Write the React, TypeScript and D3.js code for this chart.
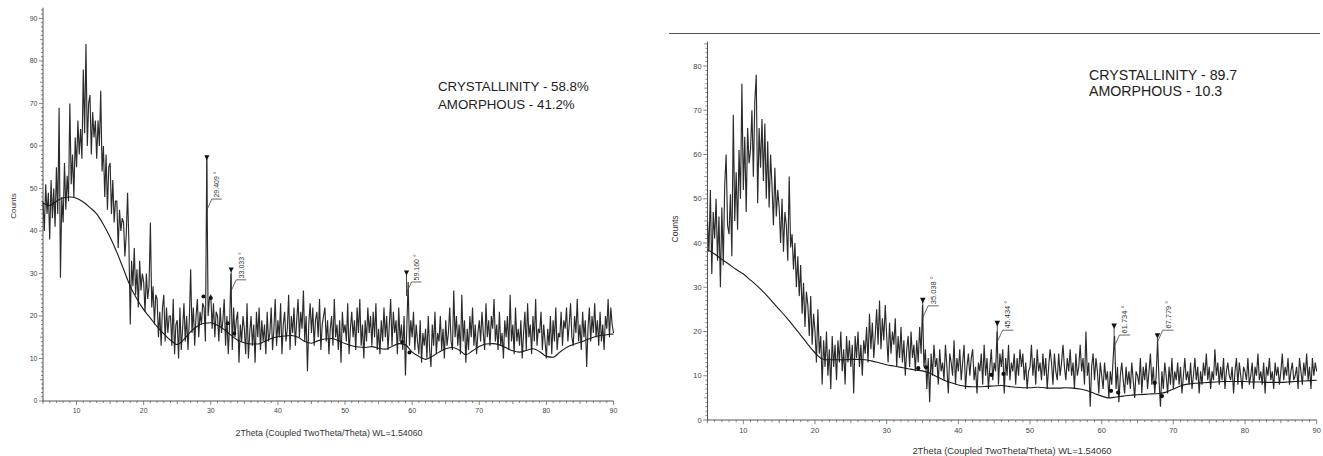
import React from "react";
import * as d3 from "d3";

// 2-theta grid of the measured patterns
const TWO_THETA_START = 5;
const TWO_THETA_STEP = 0.2;

// ---------- Left pattern (crystallinity 58.8 %) ----------
const leftCounts = [
  47, 40, 51, 44, 49, 38, 52, 43, 50, 41, 55, 44, 69, 29, 48, 42, 56, 45, 53, 47,
  70, 51, 58, 48, 62, 55, 66, 58, 64, 57, 78, 63, 84, 60, 70, 72, 58, 68, 62, 66,
  57, 66, 60, 73, 54, 60, 48, 58, 45, 55, 56, 44, 52, 42, 47, 47, 36, 45, 40, 43,
  42, 34, 39, 49, 37, 18, 33, 27, 36, 25, 31, 22, 33, 26, 30, 28, 21, 30, 24, 27,
  42, 22, 27, 18, 25, 24, 15, 21, 13, 22, 25, 14, 22, 16, 20, 20, 13, 24, 11, 18,
  19, 10, 22, 12, 17, 23, 14, 20, 12, 19, 31, 16, 22, 13, 20, 24, 15, 21, 18, 23,
  22, 14, 57, 20, 24, 25, 17, 23, 15, 21, 20, 14, 22, 16, 19, 24, 13, 20, 11, 18,
  30, 12, 22, 15, 19, 21, 9, 18, 14, 20, 17, 11, 23, 10, 16, 20, 13, 18, 9, 21,
  15, 22, 12, 19, 14, 18, 11, 21, 14, 16, 22, 12, 17, 24, 13, 19, 15, 23, 11, 18,
  21, 14, 17, 25, 12, 20, 16, 22, 13, 19, 24, 15, 21, 17, 26, 14, 20, 7, 18, 23,
  16, 22, 13, 19, 21, 15, 24, 12, 18, 20, 22, 14, 19, 11, 17, 20, 13, 24, 15, 18,
  12, 19, 9, 21, 16, 18, 14, 23, 11, 17, 21, 15, 19, 12, 22, 16, 24, 13, 18, 10,
  19, 14, 22, 16, 20, 13, 21, 15, 23, 12, 17, 11, 19, 14, 22, 15, 20, 12, 18, 24,
  13, 21, 16, 19, 11, 22, 14, 18, 12, 20, 6, 17, 28, 13, 19, 15, 21, 12, 18, 14,
  11, 19, 9, 16, 13, 17, 10, 20, 12, 8, 18, 13, 21, 11, 16, 14, 20, 12, 17, 10,
  19, 13, 16, 22, 14, 12, 26, 15, 20, 13, 18, 11, 25, 14, 19, 9, 17, 12, 20, 15,
  22, 13, 18, 11, 16, 19, 14, 21, 16, 12, 23, 15, 19, 13, 20, 17, 24, 14, 18, 12,
  21, 13, 16, 10, 19, 15, 20, 12, 25, 14, 18, 11, 22, 14, 17, 13, 19, 10, 16, 21,
  12, 23, 15, 18, 11, 20, 14, 24, 13, 17, 16, 21, 12, 18, 14, 10, 17, 13, 20, 11,
  19, 14, 22, 12, 16, 15, 21, 13, 19, 17, 22, 14, 18, 23, 15, 13, 20, 16, 24, 14,
  18, 12, 21, 15, 19, 8, 17, 22, 14, 20, 16, 23, 15, 19, 13, 21, 14, 18, 12, 20,
  17, 24, 15, 22, 18, 16,
];
const leftBgTheta = [
  5, 6, 7, 8, 9, 10, 11, 12, 13, 14, 15, 16, 17, 18, 19, 20, 21, 22, 23, 24, 25, 26, 27, 28, 29, 30,
  31, 32, 33, 34, 35, 36, 37, 38, 39, 40, 41, 42, 43, 44, 45, 46, 47, 48, 49, 50, 51, 52, 53, 54, 55,
  56, 57, 58, 59, 60, 61, 62, 63, 64, 65, 66, 67, 68, 69, 70, 71, 72, 73, 74, 75, 76, 77, 78, 79, 80,
  81, 82, 83, 84, 85, 86, 87, 88, 89, 90,
];
const leftBgCounts = [
  46.5, 46, 47, 47.8, 48, 47.7, 46.8, 45.5, 44, 41.5, 38.5, 35, 31, 27, 24, 21.5, 19.5, 17.5, 15.8, 14.3,
  13.3, 14.5, 16.3, 17.6, 18.3, 18.4, 17.8, 16.8, 15.5, 14.3, 13.7, 13.4, 13.4, 14, 14.7, 15.1, 15.3, 15.4,
  15, 14, 13.6, 14.2, 14.6, 14.7, 14.2, 13.5, 13, 12.7, 12.6, 12.8, 12.4, 12.2, 12.8, 13.5, 13.2, 11.5,
  10.5, 9.8, 10.5, 11.5, 12.3, 12.6, 12, 10.9, 11.8, 12.8, 13.4, 13.5, 13.2, 12.5, 11.8, 11.5, 11.9, 12.3,
  11.6, 10.5, 10.3, 11.5, 12.6, 13.3, 13.8, 14.4, 15, 15.4, 15.6, 15.8,
];
const leftPeakTheta = [29.409, 33.033, 59.16];
const leftPeakText = ["29.409 °", "33.033 °", "59.160 °"];
const leftPeakMarker = [57.2, 30.8, 30.1];
const leftPeakLabelLevel = [47.5, 28.5, 28.0];
const leftDotTheta = [28.9, 30.0, 32.5, 33.5, 58.5, 59.6];
const leftDotCounts = [24.6, 24.2, 18.3, 15.9, 13.9, 11.4];
const leftYTicks = [0, 10, 20, 30, 40, 50, 60, 70, 80, 90];
const leftInfo = ["CRYSTALLINITY - 58.8%", "AMORPHOUS - 41.2%"];

// ---------- Right pattern (crystallinity 89.7) ----------
const rightCounts = [
  45, 38, 52, 33, 47, 41, 50, 36, 46, 30, 48, 35, 53, 60, 44, 42, 51, 37, 69, 45,
  56, 43, 61, 50, 76, 52, 64, 47, 66, 58, 61, 70, 55, 72, 78, 49, 66, 57, 68, 54,
  67, 50, 63, 48, 60, 53, 44, 57, 46, 52, 48, 40, 50, 38, 47, 44, 36, 55, 39, 42,
  34, 40, 30, 37, 28, 35, 24, 31, 21, 29, 26, 19, 28, 17, 24, 20, 13, 25, 15, 19,
  8, 18, 12, 20, 10, 16, 7, 19, 12, 17, 9, 18, 13, 20, 11, 16, 8, 19, 13, 18,
  12, 17, 6, 19, 14, 20, 12, 17, 10, 18, 15, 21, 13, 24, 16, 22, 14, 19, 25, 17,
  27, 16, 23, 18, 26, 19, 13, 22, 15, 20, 17, 23, 12, 19, 14, 21, 13, 18, 10, 16,
  19, 12, 20, 14, 17, 11, 18, 13, 21, 15, 26, 12, 16, 7, 14, 4, 15, 10, 17, 12,
  14, 8, 16, 11, 13, 9, 17, 12, 6, 15, 13, 10, 18, 8, 14, 11, 16, 9, 13, 17,
  7, 12, 15, 10, 14, 16, 9, 12, 6, 13, 11, 15, 8, 17, 10, 14, 7, 12, 16, 9,
  13, 11, 20, 8, 15, 12, 16, 6, 14, 10, 17, 9, 13, 11, 15, 8, 14, 10, 16, 12,
  15, 9, 13, 7, 11, 12, 17, 10, 14, 8, 16, 11, 13, 9, 15, 10, 14, 7, 12, 16,
  13, 8, 15, 11, 9, 15, 10, 13, 17, 12, 9, 14, 11, 16, 10, 13, 7, 15, 10, 12,
  17, 11, 14, 8, 20, 10, 13, 3, 12, 15, 9, 14, 11, 6, 13, 10, 7, 13, 9, 11,
  5, 11, 8, 14, 19, 7, 12, 4, 10, 13, 9, 6, 12, 8, 11, 7, 13, 9, 5, 11,
  10, 8, 14, 6, 12, 9, 13, 7, 11, 15, 8, 12, 6, 10, 18, 9, 3, 11, 7, 13,
  10, 6, 12, 8, 14, 7, 11, 9, 13, 8, 12, 6, 10, 14, 9, 11, 8, 13, 7, 10,
  14, 9, 12, 6, 11, 8, 13, 10, 15, 9, 12, 7, 11, 9, 16, 10, 13, 8, 12, 9,
  14, 7, 11, 13, 10, 9, 12, 6, 11, 14, 8, 13, 10, 7, 12, 11, 9, 14, 8, 10,
  13, 7, 12, 10, 15, 9, 11, 8, 13, 6, 12, 10, 14, 9, 11, 7, 13, 10, 12, 8,
  11, 15, 9, 12, 10, 14, 8, 11, 13, 9, 10, 12, 7, 14, 11, 8, 13, 10, 15, 9,
  12, 7, 14, 10, 13, 11,
];
const rightBgTheta = [
  5, 6, 7, 8, 9, 10, 11, 12, 13, 14, 15, 16, 17, 18, 19, 20, 21, 22, 23, 24, 25, 26, 27, 28, 29, 30,
  31, 32, 33, 34, 35, 36, 37, 38, 39, 40, 41, 42, 43, 44, 45, 46, 47, 48, 49, 50, 51, 52, 53, 54, 55,
  56, 57, 58, 59, 60, 61, 62, 63, 64, 65, 66, 67, 68, 69, 70, 71, 72, 73, 74, 75, 76, 77, 78, 79, 80,
  81, 82, 83, 84, 85, 86, 87, 88, 89, 90,
];
const rightBgCounts = [
  38.5, 37.5, 36.3, 35.2, 34, 33, 31.6, 30.2, 28.6, 26.8, 25, 23.2, 21.2, 19.2, 17.1, 15.2, 13.8, 13.6,
  13.6, 13.6, 13.7, 13.7, 13.6, 13.3, 12.9, 12.5, 12.2, 11.9, 11.6, 11.3, 11.1, 10.6, 9.8, 9, 8.4, 7.9,
  7.6, 7.5, 7.5, 7.6, 7.7, 7.8, 7.6, 7.4, 7.3, 7.3, 7.4, 7.3, 7.2, 7.2, 7.3, 7.2, 7.0, 6.6, 6.0, 5.4,
  5.0, 5.2, 5.4, 5.6, 5.7, 5.8, 5.9, 6.0, 6.3, 7.0, 7.7, 8.1, 8.3, 8.4, 8.5, 8.6, 8.7, 8.7, 8.7, 8.7,
  8.6, 8.6, 8.5, 8.5, 8.5, 8.6, 8.7, 8.8, 8.9, 9.0,
];
const rightPeakTheta = [35.038, 45.434, 61.734, 67.779];
const rightPeakText = ["35.038 °", "45.434 °", "61.734 °", "67.779 °"];
const rightPeakMarker = [27.0, 21.8, 21.2, 19.0];
const rightPeakLabelLevel = [25.8, 20.3, 19.2, 20.3];
const rightDotTheta = [34.4, 35.5, 44.6, 46.3, 61.3, 62.3, 67.4, 68.4];
const rightDotCounts = [11.7, 11.9, 10.2, 10.4, 6.6, 6.2, 8.4, 5.4];
const rightYTicks = [0, 10, 20, 30, 40, 50, 60, 70, 80];
const rightInfo = ["CRYSTALLINITY - 89.7", "AMORPHOUS - 10.3"];

const xTicks = [10, 20, 30, 40, 50, 60, 70, 80, 90];
const X_LABEL = "2Theta (Coupled TwoTheta/Theta) WL=1.54060";

type Geom = {
  x0: number; x1: number; y0: number; yTopVal: number; yTopPx: number; axisTopVal: number;
  s: number; infoX: number; infoY: number; infoGap: number; countsX: number; countsY: number;
  xLabelY: number; xLabelX: number;
};

function Panel(props: {
  counts: number[]; bgTheta: number[]; bgCounts: number[]; peakTheta: number[]; peakText: string[];
  peakMarker: number[]; peakLabel: number[]; dotTheta: number[]; dotCounts: number[];
  yTicks: number[]; info: string[]; g: Geom;
}) {
  const { g } = props;
  const x = d3.scaleLinear().domain([5, 90]).range([g.x0, g.x1]);
  const y = d3.scaleLinear().domain([0, g.yTopVal]).range([g.y0, g.yTopPx]);
  const s = g.s;
  const line = d3
    .line<number>()
    .x((_, i) => x(TWO_THETA_START + i * TWO_THETA_STEP))
    .y((d) => y(d));
  const bgLine = d3
    .line<number>()
    .curve(d3.curveMonotoneX)
    .x((_, i) => x(props.bgTheta[i]))
    .y((d) => y(d));
  const minorY = d3.range(0, Math.floor(g.axisTopVal) + 1, 1);
  const minorX = d3.range(5, 91, 1);
  const axisColor = "#555";
  const tickFont = 7 * s;
  return (
    <g fontFamily="'Liberation Sans', Arial, sans-serif">
      {/* y axis */}
      <line x1={g.x0} x2={g.x0} y1={y(0) + 1} y2={y(g.axisTopVal)} stroke={axisColor} strokeWidth={1} />
      {minorY.map((v) => (
        <line key={"my" + v} x1={g.x0 - (v % 10 === 0 ? 4 : v % 5 === 0 ? 3 : 2) * s} x2={g.x0}
          y1={y(v)} y2={y(v)} stroke={axisColor} strokeWidth={0.7} />
      ))}
      {props.yTicks.map((v) => (
        <text key={"ty" + v} x={g.x0 - 5.5 * s} y={y(v)} dy="0.35em" textAnchor="end"
          fontSize={tickFont} fill="#444">{v}</text>
      ))}
      {/* x axis */}
      <line x1={g.x0} x2={g.x1} y1={y(0)} y2={y(0)} stroke={axisColor} strokeWidth={1} />
      {minorX.map((v) => (
        <line key={"mx" + v} x1={x(v)} x2={x(v)} y1={y(0)}
          y2={y(0) + (v % 10 === 0 ? 4 : v % 5 === 0 ? 3 : 2) * s} stroke={axisColor} strokeWidth={0.7} />
      ))}
      {xTicks.map((v) => (
        <text key={"tx" + v} x={x(v)} y={y(0) + 12 * s} textAnchor="middle" fontSize={tickFont} fill="#444">{v}</text>
      ))}
      <text x={g.xLabelX} y={g.xLabelY} textAnchor="middle" fontSize={8.8 * s} fill="#333">{X_LABEL}</text>
      <text transform={`translate(${g.countsX},${g.countsY}) rotate(-90)`} textAnchor="middle"
        fontSize={8 * s} fill="#333">Counts</text>
      {/* measured pattern */}
      <path d={line(props.counts) || ""} fill="none" stroke="#2b2b2b" strokeWidth={1.15}
        strokeLinejoin="miter" strokeMiterlimit={3} />
      {/* fitted background */}
      <path d={bgLine(props.bgCounts) || ""} fill="none" stroke="#1a1a1a" strokeWidth={1.1} />
      {props.dotTheta.map((t, i) => (
        <circle key={"d" + i} cx={x(t)} cy={y(props.dotCounts[i])} r={2 * s} fill="#111" />
      ))}
      {/* peak labels */}
      {props.peakTheta.map((t, i) => {
        const px = x(t);
        const my = y(props.peakMarker[i]);
        const ly = y(props.peakLabel[i]);
        return (
          <g key={"p" + i}>
            <line x1={px} x2={px} y1={my} y2={ly + 14 * s} stroke="#333" strokeWidth={0.9} />
            <path d={`M${px - 2.6 * s},${my - 2.5 * s}L${px + 2.6 * s},${my - 2.5 * s}L${px},${my + 2.5 * s}Z`} fill="#111" />
            <path d={`M${px},${ly + 11 * s}L${px + 5 * s},${ly}L${px + 15 * s},${ly}`} fill="none" stroke="#444" strokeWidth={0.8} />
            <text transform={`translate(${px + 10 * s},${ly - 1.5 * s}) rotate(-90)`} dominantBaseline="central"
              fontSize={7 * s} fill="#333">{props.peakText[i]}</text>
          </g>
        );
      })}
      {props.info.map((t, i) => (
        <text key={"i" + i} x={g.infoX} y={g.infoY + i * g.infoGap} fontSize={13.3 * s} fill="#222">{t}</text>
      ))}
    </g>
  );
}

export default function App() {
  const leftGeom: Geom = {
    x0: 43, x1: 613.5, y0: 401, yTopVal: 90, yTopPx: 18.4, axisTopVal: 92.5, s: 1,
    infoX: 438, infoY: 90.8, infoGap: 18, countsX: 16, countsY: 206, xLabelX: 329, xLabelY: 436,
  };
  const rightGeom: Geom = {
    x0: 707.5, x1: 1316.7, y0: 420, yTopVal: 80, yTopPx: 66, axisTopVal: 85.5, s: 1.068,
    infoX: 1089, infoY: 79.5, infoGap: 16.7, countsX: 678, countsY: 229, xLabelX: 1012, xLabelY: 453.5,
  };
  return (
    <svg width={1323} height={456} style={{ position: "absolute", left: 0, top: 0, background: "#fff" }}>
      <rect x={0} y={0} width={1323} height={456} fill="#fff" />
      <line x1={669} x2={1320} y1={33.5} y2={33.5} stroke="#555" strokeWidth={1.2} />
      <Panel counts={leftCounts} bgTheta={leftBgTheta} bgCounts={leftBgCounts} peakTheta={leftPeakTheta}
        peakText={leftPeakText} peakMarker={leftPeakMarker} peakLabel={leftPeakLabelLevel}
        dotTheta={leftDotTheta} dotCounts={leftDotCounts} yTicks={leftYTicks} info={leftInfo} g={leftGeom} />
      <Panel counts={rightCounts} bgTheta={rightBgTheta} bgCounts={rightBgCounts} peakTheta={rightPeakTheta}
        peakText={rightPeakText} peakMarker={rightPeakMarker} peakLabel={rightPeakLabelLevel}
        dotTheta={rightDotTheta} dotCounts={rightDotCounts} yTicks={rightYTicks} info={rightInfo} g={rightGeom} />
    </svg>
  );
}
